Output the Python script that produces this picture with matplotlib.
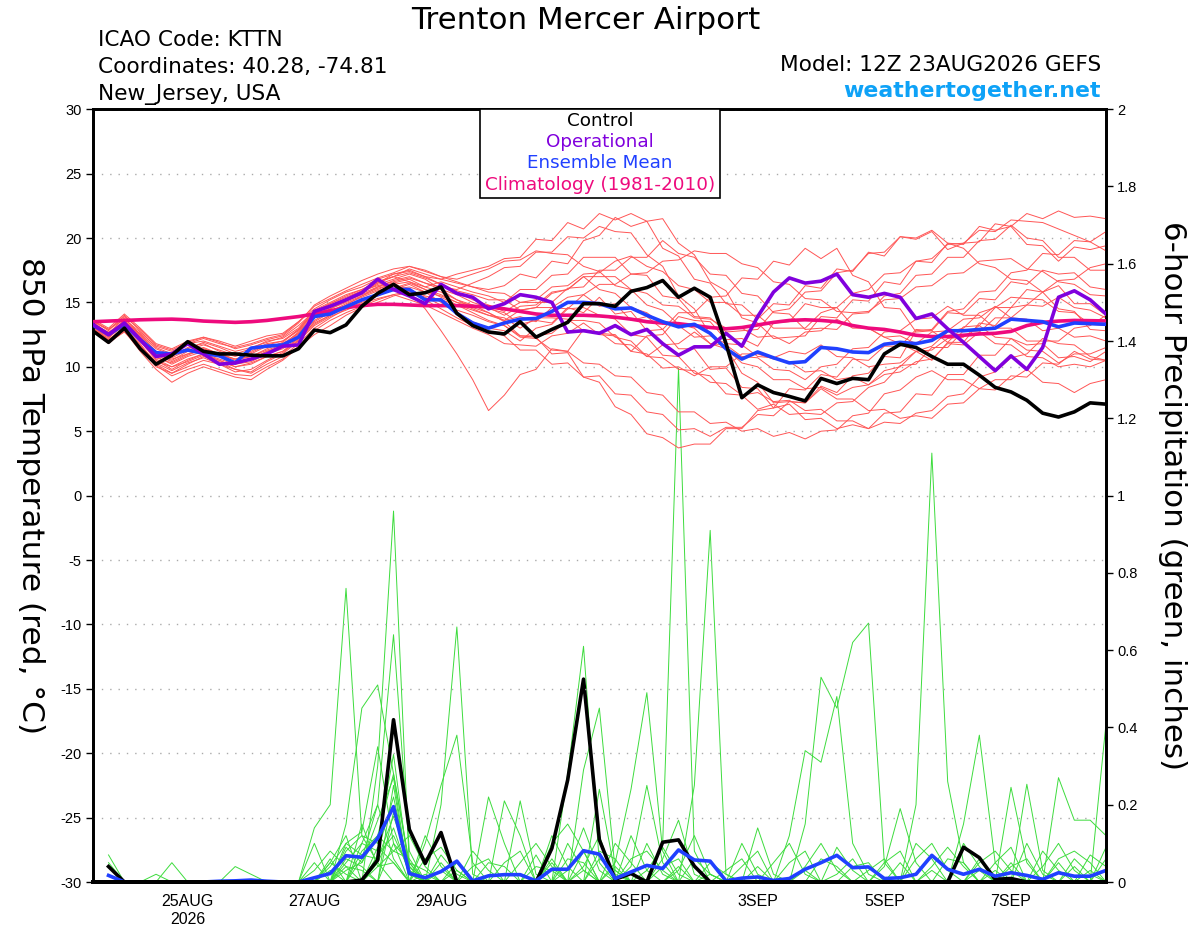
import matplotlib
matplotlib.use("Agg")
import matplotlib.pyplot as plt
from matplotlib.patches import Rectangle
from matplotlib.ticker import FuncFormatter
import numpy as np
import pandas as pd

plt.rcParams['font.family'] = ['Liberation Sans', 'DejaVu Sans']
plt.rcParams['axes.unicode_minus'] = False

# 6-hourly valid times, 12Z 23AUG2026 to 12Z 08SEP2026
times = pd.date_range('2026-08-23 12:00', periods=65, freq='6h')
precip_times = times[1:]

tick_dates = ['2026-08-25', '2026-08-27', '2026-08-29', '2026-09-01',
              '2026-09-03', '2026-09-05', '2026-09-07']
tick_labels = ['25AUG\n2026', '27AUG', '29AUG', '1SEP', '3SEP', '5SEP', '7SEP']

# 850 hPa temperature (C)
control_t = [12.8, 11.9, 13.0, 11.4, 10.2, 10.9, 11.95, 11.2, 11.0, 11.0, 10.9, 10.85, 10.85,
             11.4, 12.85, 12.65, 13.25, 14.7, 15.7, 16.4, 15.6, 15.75, 16.2, 14.15, 13.2, 12.7,
             12.55, 13.5, 12.3, 12.9, 13.45, 14.9, 14.9, 14.7, 15.86, 16.15, 16.7, 15.4, 16.1,
             15.4, 11.8, 7.6, 8.6, 8.0, 7.7, 7.35, 9.1, 8.7, 9.1, 9.0, 11.0, 11.75, 11.5,
             10.8, 10.2, 10.2, 9.35, 8.4, 8.05, 7.4, 6.4, 6.1, 6.5, 7.2, 7.1]

operational_t = [13.3, 12.5, 13.4, 12.1, 10.8, 11.0, 11.8, 11.0, 10.2, 10.3, 10.6, 11.0, 11.6,
                 11.7, 14.3, 14.7, 15.2, 15.75, 16.8, 16.0, 15.5, 14.9, 16.4, 15.7, 15.4, 14.5,
                 14.9, 15.6, 15.4, 15.0, 12.7, 12.8, 12.6, 13.2, 12.5, 12.9, 11.8, 10.9, 11.55,
                 11.55, 12.6, 11.6, 13.9, 15.8, 16.9, 16.5, 16.65, 17.2, 15.6, 15.4, 15.7, 15.4,
                 13.75, 14.1, 12.95, 11.9, 10.8, 9.7, 10.85, 9.8, 11.5, 15.4, 15.9, 15.2, 14.1]

mean_t = [13.25, 12.5, 13.3, 12.1, 11.1, 11.0, 11.3, 11.05, 10.85, 10.3, 11.45, 11.6, 11.7,
          12.3, 13.9, 14.1, 14.66, 15.2, 15.6, 16.0, 16.0, 15.2, 15.2, 14.15, 13.4, 13.0,
          13.4, 13.7, 13.75, 14.3, 15.0, 15.0, 14.9, 14.5, 14.57, 14.0, 13.5, 13.1, 13.3,
          12.6, 11.4, 10.6, 11.15, 10.7, 10.3, 10.4, 11.5, 11.4, 11.15, 11.1, 11.75, 11.9, 11.8,
          12.05, 12.8, 12.8, 12.9, 13.0, 13.7, 13.6, 13.5, 13.1, 13.4, 13.35, 13.3]

climo_t = [13.5, 13.55, 13.6, 13.65, 13.68, 13.7, 13.65, 13.55, 13.5, 13.45, 13.5, 13.6, 13.75,
           13.9, 14.1, 14.35, 14.6, 14.75, 14.85, 14.85, 14.8, 14.75, 14.75, 14.75, 14.7, 14.65,
           14.5, 14.3, 14.1, 14.0, 14.0, 14.0, 13.95, 13.85, 13.7, 13.5, 13.4, 13.35, 13.2,
           13.05, 12.95, 13.05, 13.25, 13.45, 13.6, 13.65, 13.6, 13.5, 13.2, 13.0, 12.9, 12.7,
           12.45, 12.35, 12.35, 12.45, 12.55, 12.6, 12.75, 13.2, 13.45, 13.55, 13.6, 13.58, 13.56]

member_t = [
    [13.5, 12.6, 13.8, 12.5, 11.2, 10.8, 11.5, 11.8, 11.2, 10.8, 11.2, 11.8, 12.0,
     12.8, 14.2, 14.8, 15.2, 15.8, 16.5, 17.0, 17.6, 17.2, 16.8, 16.5, 16.2, 16.0,
     16.3, 17.2, 16.9, 18.2, 18.0, 19.8, 20.2, 21.6, 20.9, 21.3, 19.2, 18.6, 16.8,
     16.5, 14.9, 14.8, 13.7, 14.9, 14.8, 16.3, 16.1, 17.6, 17.4, 18.9, 18.6, 20.1,
     19.9, 20.5, 19.1, 19.6, 19.7, 21.1, 20.9, 21.9, 21.5, 22.1, 21.6, 21.7, 21.5],
    [13.0, 12.2, 13.5, 12.0, 10.5, 9.8, 10.5, 11.0, 10.5, 10.0, 10.2, 10.8, 11.2,
     12.0, 13.5, 14.2, 14.8, 15.5, 16.0, 16.5, 15.8, 14.5, 12.8, 11.0, 9.0, 6.6,
     7.8, 9.4, 9.8, 11.4, 11.2, 12.9, 12.6, 12.5, 11.2, 12.4, 12.5, 13.9, 13.6,
     13.5, 12.1, 12.2, 11.6, 13.4, 13.5, 14.9, 14.6, 14.6, 13.2, 13.0, 12.3, 11.8,
     11.2, 10.5, 11.9, 11.9, 13.4, 13.2, 14.6, 14.8, 15.8, 14.5, 14.3, 12.9, 12.8],
    [13.2, 12.0, 13.0, 11.8, 10.2, 9.5, 10.0, 10.5, 10.2, 9.8, 9.5, 10.2, 10.8,
     11.8, 13.0, 13.8, 14.5, 15.0, 15.5, 16.0, 16.2, 15.8, 15.5, 15.0, 14.8, 14.2,
     13.5, 12.4, 12.3, 11.0, 11.1, 9.2, 8.8, 6.9, 6.3, 4.8, 4.5, 3.7, 4.0,
     4.0, 5.2, 5.2, 6.6, 6.8, 8.3, 8.2, 9.4, 9.2, 10.6, 10.5, 11.6, 11.6,
     12.9, 12.8, 14.2, 14.1, 15.3, 15.2, 16.6, 16.4, 17.5, 17.2, 17.3, 16.2, 16.0],
    [13.6, 12.8, 14.0, 12.8, 11.5, 11.0, 11.8, 12.2, 11.8, 11.5, 11.8, 12.2, 12.5,
     13.5, 14.5, 15.2, 15.8, 16.2, 16.8, 17.2, 17.5, 17.0, 16.8, 17.2, 17.5, 17.8,
     18.4, 18.5, 19.9, 19.8, 21.2, 20.7, 21.9, 21.4, 21.9, 21.3, 21.5, 19.6, 18.7,
     16.6, 15.9, 13.8, 13.4, 12.2, 12.3, 12.4, 13.9, 13.8, 15.2, 15.1, 16.6, 16.4,
     18.2, 18.1, 19.6, 19.5, 20.9, 20.6, 20.9, 19.5, 19.4, 18.2, 19.3, 19.1, 19.4],
    [13.0, 12.4, 13.2, 12.2, 10.8, 10.2, 10.8, 11.2, 10.8, 10.4, 10.6, 11.2, 11.6,
     12.5, 13.8, 14.5, 15.0, 15.5, 16.2, 16.5, 16.8, 16.2, 15.8, 15.2, 14.8, 14.5,
     14.2, 13.3, 13.6, 13.4, 14.6, 14.2, 15.4, 14.1, 14.3, 12.8, 12.9, 11.4, 11.4,
     9.8, 9.9, 8.4, 8.3, 6.8, 7.1, 5.9, 6.0, 5.2, 5.5, 5.2, 6.4, 6.5,
     7.9, 7.8, 9.4, 9.4, 10.9, 10.9, 12.2, 11.7, 11.8, 10.7, 10.8, 10.4, 11.2],
    [13.4, 12.5, 13.6, 12.4, 11.0, 10.5, 11.2, 11.5, 11.0, 10.6, 11.0, 11.6, 11.8,
     12.6, 14.0, 14.6, 15.2, 15.8, 16.4, 16.8, 17.2, 16.8, 16.0, 15.2, 14.6, 14.2,
     13.6, 13.9, 13.5, 14.6, 14.5, 15.6, 14.7, 14.9, 13.6, 13.9, 12.9, 14.2, 14.2,
     15.4, 15.5, 16.9, 16.8, 18.2, 17.9, 19.2, 18.4, 19.2, 17.1, 16.6, 14.6, 14.5,
     12.7, 12.8, 11.9, 13.1, 13.2, 14.6, 14.6, 16.0, 15.8, 16.3, 14.9, 14.9, 14.0],
    [12.8, 11.8, 12.8, 11.2, 9.8, 8.8, 9.5, 10.0, 9.6, 9.2, 9.0, 9.8, 10.5,
     11.5, 12.5, 13.2, 14.0, 14.6, 15.0, 15.5, 15.8, 15.2, 14.5, 13.8, 13.2, 12.8,
     12.4, 11.3, 11.3, 10.2, 10.3, 9.2, 9.3, 7.9, 7.8, 6.5, 6.3, 5.1, 5.2,
     4.6, 5.3, 5.3, 6.3, 6.2, 7.3, 7.2, 8.3, 7.5, 7.5, 6.6, 6.7, 6.0,
     6.2, 6.0, 7.1, 7.2, 8.3, 8.2, 9.3, 9.2, 10.3, 10.2, 11.2, 10.6, 10.5],
    [13.3, 12.7, 13.4, 12.6, 11.4, 10.9, 11.4, 11.9, 11.5, 11.0, 11.4, 12.0, 12.2,
     13.0, 14.4, 15.0, 15.6, 16.0, 16.6, 17.0, 16.6, 16.2, 16.6, 16.2, 15.8, 15.5,
     15.0, 16.0, 16.0, 17.1, 17.2, 18.5, 18.5, 18.5, 17.2, 17.1, 15.5, 15.3, 13.9,
     13.8, 12.7, 12.8, 12.9, 14.3, 14.5, 15.8, 15.9, 17.3, 17.5, 18.8, 18.9, 20.1,
     20.0, 20.6, 19.6, 19.2, 18.0, 17.7, 16.8, 16.7, 15.8, 16.7, 16.8, 17.7, 18.0],
    [13.1, 12.3, 13.2, 12.0, 10.6, 10.0, 10.6, 11.0, 10.6, 10.2, 10.4, 11.0, 11.4,
     12.2, 13.4, 14.0, 14.6, 15.2, 15.6, 16.0, 16.4, 15.8, 15.0, 14.2, 13.5, 13.0,
     12.8, 12.0, 13.0, 13.3, 14.5, 14.6, 14.0, 13.7, 12.5, 12.3, 10.9, 10.8, 9.5,
     9.3, 7.9, 7.8, 6.7, 7.1, 6.3, 6.4, 6.3, 7.2, 7.3, 8.4, 8.8, 10.1,
     10.2, 11.5, 11.5, 12.8, 12.7, 13.8, 13.8, 14.8, 14.7, 15.4, 14.6, 14.4, 13.8],
    [13.5, 12.9, 13.7, 12.7, 11.6, 11.2, 11.8, 12.0, 11.6, 11.2, 11.5, 11.9, 12.3,
     13.2, 14.3, 14.9, 15.4, 15.9, 16.3, 16.6, 16.9, 16.5, 16.0, 15.6, 15.0, 14.6,
     14.0, 14.7, 14.8, 15.8, 16.0, 17.0, 17.0, 17.0, 16.0, 15.7, 14.8, 14.7, 13.8,
     13.7, 13.0, 13.0, 12.3, 12.4, 11.8, 12.7, 12.8, 13.7, 13.0, 13.0, 12.3, 12.4,
     11.8, 12.7, 12.8, 13.7, 13.8, 14.7, 13.8, 13.7, 12.8, 13.0, 12.3, 12.4, 12.0],
    [13.2, 12.4, 13.3, 12.1, 10.7, 10.3, 10.9, 11.4, 11.0, 10.5, 10.8, 11.3, 11.7,
     12.7, 14.1, 14.7, 15.1, 15.7, 16.2, 16.7, 17.0, 16.5, 16.2, 16.0, 16.5, 17.0,
     17.7, 17.8, 18.9, 18.9, 20.1, 20.0, 20.9, 20.5, 20.4, 18.7, 17.8, 15.5, 14.5,
     12.5, 11.5, 9.5, 8.8, 7.2, 7.3, 7.2, 8.5, 8.0, 9.3, 9.5, 10.8, 10.7,
     12.8, 12.9, 14.3, 14.5, 15.8, 15.9, 17.3, 17.5, 18.8, 18.7, 19.8, 19.7, 20.5],
    [12.9, 12.0, 13.0, 11.5, 10.0, 9.5, 10.2, 10.8, 10.4, 9.8, 9.6, 10.4, 11.0,
     12.0, 13.2, 13.9, 14.4, 14.9, 15.3, 15.6, 15.2, 14.8, 14.2, 13.6, 13.0, 12.5,
     11.8, 11.7, 11.6, 12.4, 12.6, 13.4, 12.5, 12.4, 11.2, 11.0, 9.9, 10.0, 9.3,
     10.0, 10.0, 11.0, 11.0, 10.6, 10.4, 9.6, 9.7, 9.0, 9.2, 8.6, 9.4, 9.6,
     10.4, 10.6, 11.8, 11.7, 12.7, 11.8, 11.7, 10.8, 10.7, 10.0, 10.2, 10.0, 10.5],
    [13.7, 13.0, 14.1, 13.0, 11.8, 11.4, 12.0, 12.3, 12.0, 11.6, 12.0, 12.4, 12.6,
     13.5, 14.7, 15.3, 15.9, 16.4, 16.9, 17.3, 17.8, 17.4, 17.0, 16.6, 16.2, 15.8,
     15.7, 15.0, 15.0, 15.0, 16.1, 16.2, 17.5, 17.5, 18.5, 18.5, 19.8, 18.8, 18.5,
     17.2, 17.1, 15.7, 15.5, 14.2, 14.1, 12.9, 13.0, 12.9, 14.1, 14.2, 15.5, 15.7,
     17.1, 17.2, 18.5, 18.5, 19.8, 19.9, 21.0, 20.0, 19.8, 18.5, 18.5, 17.5, 17.5],
    [13.0, 12.1, 13.1, 11.7, 10.3, 9.7, 10.3, 10.7, 10.2, 9.6, 9.8, 10.5, 11.1,
     12.1, 13.3, 14.0, 14.6, 15.1, 15.7, 16.1, 16.5, 16.0, 15.4, 14.8, 14.2, 13.6,
     13.2, 12.3, 12.2, 11.3, 11.2, 10.3, 10.2, 9.3, 9.2, 8.0, 7.8, 6.5, 6.5,
     5.6, 5.7, 5.0, 5.2, 4.6, 4.9, 4.4, 5.0, 5.1, 6.2, 6.4, 7.9, 8.2,
     9.2, 9.7, 9.0, 9.0, 8.3, 9.0, 9.0, 9.8, 8.8, 8.7, 8.0, 8.7, 9.0],
    [13.3, 12.5, 13.5, 12.3, 11.0, 10.6, 11.0, 11.4, 11.0, 10.6, 10.8, 11.4, 11.9,
     12.9, 14.2, 14.8, 15.3, 15.9, 16.5, 17.2, 17.4, 17.0, 16.4, 15.8, 15.2, 14.8,
     14.3, 15.0, 15.2, 16.2, 16.3, 17.2, 17.3, 18.2, 18.6, 17.8, 17.4, 16.3, 16.0,
     15.0, 15.0, 14.0, 14.0, 13.0, 13.0, 13.0, 14.2, 14.6, 15.7, 16.0, 17.2, 17.3,
     18.2, 18.4, 19.5, 19.6, 20.6, 20.5, 21.4, 21.3, 21.2, 20.7, 20.2, 19.7, 19.0],
    [12.9, 12.1, 12.9, 11.6, 10.4, 10.0, 10.4, 10.9, 10.5, 10.0, 10.3, 10.8, 11.2,
     12.2, 13.6, 14.3, 14.9, 15.4, 15.9, 16.3, 16.0, 15.5, 15.2, 14.8, 14.4, 14.0,
     13.8, 13.0, 13.8, 13.8, 13.7, 12.8, 12.7, 11.8, 11.7, 10.8, 11.7, 11.8, 12.7,
     11.8, 11.7, 10.8, 10.7, 9.8, 9.7, 9.0, 10.0, 10.2, 11.4, 11.5, 12.7, 12.8,
     13.7, 13.8, 14.7, 14.0, 14.0, 13.0, 13.0, 12.0, 12.0, 12.0, 13.0, 13.2, 14.0],
    [13.6, 12.9, 13.9, 12.9, 11.7, 11.3, 11.9, 12.3, 11.9, 11.4, 11.7, 12.1, 12.4,
     13.4, 14.8, 15.5, 16.1, 16.7, 17.2, 17.6, 17.8, 17.5, 17.0, 16.8, 17.2, 17.6,
     18.2, 18.3, 19.0, 18.8, 18.7, 17.8, 17.4, 16.3, 16.0, 14.8, 14.4, 13.3, 13.0,
     11.8, 11.4, 10.3, 10.0, 9.0, 9.0, 8.3, 8.4, 7.8, 8.4, 8.6, 9.7, 10.0,
     11.2, 11.6, 12.7, 13.0, 14.2, 14.6, 15.4, 15.3, 15.2, 14.3, 14.2, 13.3, 13.2],
    [13.1, 12.3, 13.3, 12.0, 10.9, 10.4, 11.0, 11.3, 10.8, 10.3, 10.6, 11.2, 11.6,
     12.6, 13.9, 14.5, 15.1, 15.6, 16.1, 16.4, 16.6, 16.0, 15.6, 15.0, 14.5, 14.0,
     13.6, 14.4, 14.6, 15.7, 16.0, 17.0, 16.0, 15.7, 14.6, 14.2, 13.3, 13.2, 12.3,
     12.4, 11.8, 11.7, 10.8, 10.7, 11.2, 11.0, 11.7, 10.8, 10.7, 10.0, 10.2, 10.3,
     11.2, 11.3, 12.2, 12.3, 13.2, 12.3, 12.2, 11.3, 11.2, 10.3, 11.0, 11.0, 11.5],
    [13.4, 12.6, 13.6, 12.5, 11.2, 10.7, 11.3, 11.7, 11.3, 10.9, 11.1, 11.7, 12.0,
     12.9, 14.3, 14.9, 15.5, 16.0, 16.6, 17.0, 17.3, 16.9, 16.4, 15.9, 15.6, 15.2,
     15.2, 14.4, 14.6, 14.6, 15.4, 15.6, 16.4, 16.4, 17.2, 17.3, 18.2, 18.3, 19.0,
     18.8, 18.8, 18.0, 17.7, 16.6, 16.4, 15.3, 15.2, 14.3, 14.2, 14.3, 15.2, 15.3,
     16.2, 16.3, 17.2, 17.3, 18.2, 18.3, 18.4, 17.6, 17.4, 16.6, 16.4, 15.6, 15.5],
    [12.7, 11.9, 12.7, 11.4, 10.1, 9.3, 9.8, 10.2, 9.8, 9.4, 9.3, 10.0, 10.6,
     11.6, 12.8, 13.6, 14.2, 14.7, 15.2, 15.6, 15.9, 15.4, 14.8, 14.4, 14.0, 13.5,
     13.2, 12.4, 12.4, 12.6, 13.6, 13.6, 13.4, 12.3, 12.0, 10.8, 10.7, 9.8, 9.7,
     8.8, 8.7, 7.8, 8.0, 7.3, 7.4, 6.6, 6.7, 5.8, 5.8, 5.2, 5.7, 5.6,
     6.4, 6.6, 7.7, 7.9, 9.2, 9.6, 10.7, 11.0, 12.2, 11.8, 11.7, 10.8, 10.5],
]

# 6-hour precipitation (inches), valid 18Z 23AUG onward
control_p = [0.04, 0, 0, 0, 0, 0, 0, 0, 0, 0, 0, 0, 0, 0, 0, 0,
             0.005, 0.057, 0.42, 0.136, 0.048, 0.128, 0, 0, 0, 0, 0, 0, 0.087, 0.264, 0.525, 0.109,
             0.007, 0.022, 0, 0.103, 0.109, 0.041, 0, 0, 0, 0, 0, 0, 0, 0, 0, 0,
             0, 0, 0, 0, 0, 0, 0.09, 0.063, 0.007, 0.009, 0, 0, 0, 0, 0, 0]

mean_p = [0.017, 0, 0, 0, 0, 0, 0, 0.002, 0.003, 0.005, 0.002, 0, 0, 0.011, 0.022, 0.068,
          0.064, 0.113, 0.195, 0.022, 0.011, 0.027, 0.054, 0.003, 0.016, 0.019, 0.019, 0.003, 0.033, 0.033, 0.081, 0.072,
          0.009, 0.026, 0.043, 0.035, 0.083, 0.057, 0.054, 0.003, 0.01, 0.013, 0.004, 0.009, 0.033, 0.05, 0.069, 0.037,
          0.039, 0.009, 0.011, 0.02, 0.069, 0.033, 0.02, 0.033, 0.015, 0.024, 0.017, 0.007, 0.024, 0.015, 0.015, 0.03]

# member precipitation, nonzero periods only {step: inches}
member_p = [
    {1: 0.07, 14: 0.14, 15: 0.2, 16: 0.76, 17: 0.12, 18: 0.05, 22: 0.03, 29: 0.12, 30: 0.04,
     36: 0.1, 37: 1.33, 38: 0.08, 45: 0.03, 56: 0.06},
    {1: 0.05, 18: 0.3, 19: 0.96, 20: 0.04, 23: 0.05, 31: 0.08, 39: 0.02, 52: 0.2, 53: 1.11,
     54: 0.26, 55: 0.05, 61: 0.05},
    {16: 0.15, 17: 0.45, 18: 0.51, 19: 0.28, 20: 0.05, 25: 0.22, 26: 0.1, 31: 0.03, 38: 0.25,
     39: 0.91, 40: 0.02, 58: 0.05},
    {17: 0.1, 18: 0.2, 19: 0.64, 20: 0.08, 22: 0.2, 23: 0.66, 24: 0.02, 33: 0.05, 34: 0.24,
     35: 0.49, 36: 0.08, 62: 0.04},
    {15: 0.05, 16: 0.12, 19: 0.25, 21: 0.1, 22: 0.25, 23: 0.38, 24: 0.05, 30: 0.28, 31: 0.61,
     32: 0.05, 44: 0.12, 45: 0.34, 46: 0.31, 47: 0.48, 48: 0.1, 49: 0.02},
    {14: 0.1, 16: 0.08, 17: 0.12, 18: 0.1, 19: 0.33, 20: 0.02, 31: 0.29, 32: 0.45, 33: 0.03,
     45: 0.15, 46: 0.53, 47: 0.45, 48: 0.62, 49: 0.67, 50: 0.05},
    {9: 0.04, 10: 0.02, 16: 0.1, 17: 0.13, 18: 0.35, 19: 0.1, 27: 0.21, 28: 0.02, 32: 0.24,
     33: 0.02, 55: 0.15, 56: 0.38, 57: 0.05, 64: 0.41},
    {5: 0.05, 15: 0.06, 17: 0.08, 18: 0.12, 19: 0.28, 20: 0.04, 26: 0.21, 27: 0.12, 29: 0.05,
     34: 0.04, 35: 0.25, 36: 0.05, 58: 0.245, 59: 0.05},
    {14: 0.05, 16: 0.09, 17: 0.05, 18: 0.16, 19: 0.27, 21: 0.06, 22: 0.09, 23: 0.03, 30: 0.06,
     31: 0.05, 36: 0.06, 37: 0.16, 38: 0.02, 50: 0.04, 51: 0.19, 52: 0.05, 59: 0.253, 60: 0.03},
    {16: 0.05, 17: 0.1, 18: 0.08, 19: 0.22, 20: 0.03, 24: 0.04, 25: 0.06, 31: 0.04, 32: 0.12,
     39: 0.05, 40: 0.02, 42: 0.14, 43: 0.02, 61: 0.27, 62: 0.16, 63: 0.16, 64: 0.12},
    {15: 0.04, 16: 0.1, 17: 0.07, 18: 0.06, 19: 0.17, 20: 0.05, 21: 0.03, 28: 0.04, 29: 0.03,
     33: 0.1, 34: 0.05, 41: 0.1, 42: 0.02, 47: 0.09, 48: 0.03, 57: 0.05, 58: 0.09, 63: 0.03},
    {16: 0.03, 17: 0.05, 18: 0.12, 19: 0.08, 20: 0.06, 22: 0.05, 29: 0.1, 30: 0.15, 31: 0.08,
     35: 0.1, 36: 0.02, 44: 0.05, 45: 0.08, 52: 0.06, 53: 0.1, 54: 0.03, 60: 0.08, 61: 0.03},
    {14: 0.03, 15: 0.08, 16: 0.04, 18: 0.05, 19: 0.14, 20: 0.02, 24: 0.08, 25: 0.03, 30: 0.1,
     31: 0.03, 34: 0.12, 35: 0.03, 41: 0.04, 42: 0.08, 50: 0.05, 51: 0.08, 55: 0.1, 56: 0.04,
     64: 0.06},
    {17: 0.06, 18: 0.2, 19: 0.06, 21: 0.12, 22: 0.04, 26: 0.05, 27: 0.08, 32: 0.06, 33: 0.03,
     38: 0.06, 39: 0.02, 46: 0.06, 47: 0.04, 53: 0.04, 54: 0.09, 55: 0.04, 62: 0.06, 63: 0.02},
    {16: 0.06, 17: 0.04, 19: 0.1, 20: 0.05, 23: 0.03, 27: 0.05, 28: 0.1, 29: 0.04, 36: 0.04,
     37: 0.06, 43: 0.05, 44: 0.1, 45: 0.02, 56: 0.05, 57: 0.08, 58: 0.03},
    {18: 0.04, 19: 0.08, 20: 0.12, 21: 0.04, 30: 0.03, 31: 0.14, 32: 0.03, 37: 0.03, 38: 0.12,
     39: 0.02, 48: 0.04, 49: 0.05, 54: 0.06, 55: 0.05, 60: 0.04, 61: 0.1, 62: 0.03},
    {15: 0.03, 17: 0.15, 18: 0.04, 19: 0.05, 22: 0.07, 23: 0.02, 34: 0.06, 35: 0.08, 36: 0.03,
     49: 0.03, 50: 0.06, 52: 0.1, 53: 0.06, 58: 0.04, 59: 0.06, 64: 0.09},
    {1: 0.04, 18: 0.07, 19: 0.12, 20: 0.03, 29: 0.06, 33: 0.04, 37: 0.04, 40: 0.03, 41: 0.06,
     45: 0.04, 46: 0.1, 47: 0.03, 57: 0.03, 63: 0.07, 64: 0.04},
    {4: 0.02, 16: 0.04, 17: 0.03, 19: 0.18, 20: 0.04, 25: 0.05, 26: 0.04, 32: 0.08, 33: 0.06,
     42: 0.04, 51: 0.05, 56: 0.03, 59: 0.1, 60: 0.02},
    {15: 0.05, 16: 0.02, 18: 0.09, 19: 0.05, 21: 0.02, 28: 0.07, 35: 0.03, 36: 0.09, 37: 0.02,
     47: 0.02, 48: 0.06, 53: 0.03, 61: 0.06, 62: 0.08, 63: 0.05},
]

RED = '#ff5555'
GREEN = '#3ddc3d'
PURPLE = '#8000dd'
BLUE = '#2040ff'
PINK = '#ee0a7d'
WIDE = ['DejaVu Sans']


def px_x(x):
    return x / 1200.0


def px_y(y):
    return 1.0 - y / 927.0


def expand_precip(steps):
    """Turn a {step: value} dict into a full 64-period series."""
    series = np.zeros(len(precip_times))
    for step, val in steps.items():
        series[step - 1] = val
    return series


fig = plt.figure(figsize=(12, 9.27), dpi=100)
ax = fig.add_axes([px_x(92.7), px_y(882), (1106 - 92.7) / 1200, (882 - 109.2) / 927])
ax2 = ax.twinx()

# precipitation (right axis), drawn underneath the temperatures
for steps in member_p:
    ax2.plot(precip_times, expand_precip(steps), color=GREEN, lw=0.7)
ax2.plot(precip_times, control_p, color='black', lw=2.6)
ax2.plot(precip_times, mean_p, color=BLUE, lw=2.6)

# temperature (left axis)
for vals in member_t:
    ax.plot(times, vals, color=RED, lw=0.7)
ax.plot(times, climo_t, color=PINK, lw=2.6, zorder=4)
ax.plot(times, mean_t, color=BLUE, lw=2.6, zorder=5)
ax.plot(times, operational_t, color=PURPLE, lw=2.6, zorder=6)
ax.plot(times, control_t, color='black', lw=2.6, zorder=7)

ax.set_zorder(ax2.get_zorder() + 1)
ax.patch.set_visible(False)

ax.set_xlim(times[0], times[-1])
ax.set_ylim(-30, 30)
ax2.set_ylim(0, 2)

ax.set_yticks(np.arange(-30, 31, 5))
ax2.set_yticks(np.arange(0, 2.01, 0.2))
ax2.yaxis.set_major_formatter(FuncFormatter(lambda v, _: f'{v:g}'))
ax.set_xticks(pd.to_datetime(tick_dates))
ax.set_xticklabels(tick_labels)

ax.yaxis.grid(True, linestyle=(0, (1, 5)), color='#aaaaaa', lw=1.0)
ax.tick_params(axis='y', direction='out', length=5, width=1, labelsize=10.5, pad=3)
ax.tick_params(axis='x', length=0, labelsize=11.5, pad=9)
ax2.tick_params(axis='y', direction='out', length=5, width=1, labelsize=10.5, pad=3)

for a in (ax, ax2):
    for side in ('left', 'right', 'top'):
        a.spines[side].set_linewidth(2.0)
    a.spines['bottom'].set_linewidth(2.8)

# legend box
box_l, box_r = (480 - 92.7) / 1013.3, (720 - 92.7) / 1013.3
box_b = (882 - 198) / 772.8
ax.add_patch(Rectangle((box_l, box_b), box_r - box_l, 1.0 - box_b, transform=ax.transAxes,
                       facecolor='white', edgecolor='black', lw=1.2, zorder=10, clip_on=False))
legend_rows = [('Control', 'black', 121), ('Operational', PURPLE, 142),
               ('Ensemble Mean', BLUE, 163), ('Climatology (1981-2010)', PINK, 185)]
for label, color, ypix in legend_rows:
    ax.text((box_l + box_r) / 2, (882 - ypix) / 772.8, label, color=color, fontsize=13.2,
            family=WIDE, ha='center', va='center', transform=ax.transAxes, zorder=11)

# header text
fig.text(px_x(586), px_y(29), 'Trenton Mercer Airport', fontsize=22.3, family=WIDE,
         ha='center', va='baseline')
fig.text(px_x(98), px_y(46), 'ICAO Code: KTTN', fontsize=15.6, family=WIDE, va='baseline')
fig.text(px_x(98), px_y(73), 'Coordinates: 40.28, -74.81', fontsize=15.6, family=WIDE,
         va='baseline')
fig.text(px_x(98), px_y(100), 'New_Jersey, USA', fontsize=15.6, family=WIDE, va='baseline')
fig.text(px_x(1101), px_y(71), 'Model: 12Z 23AUG2026 GEFS', fontsize=15.6, family=WIDE,
         ha='right', va='baseline')
fig.text(px_x(1101), px_y(97), 'weathertogether.net', fontsize=15.8, family=WIDE,
         fontweight='bold', color='#0ea2f7', ha='right', va='baseline')

fig.text(px_x(30), px_y(496), '850 hPa Temperature (red, °C)', fontsize=22.5, family=WIDE,
         rotation=270, ha='center', va='center')
fig.text(px_x(1172), px_y(496), '6-hour Precipitation (green, inches)', fontsize=22.3,
         family=WIDE, rotation=270, ha='center', va='center')

fig.savefig('out.png', dpi=100)
